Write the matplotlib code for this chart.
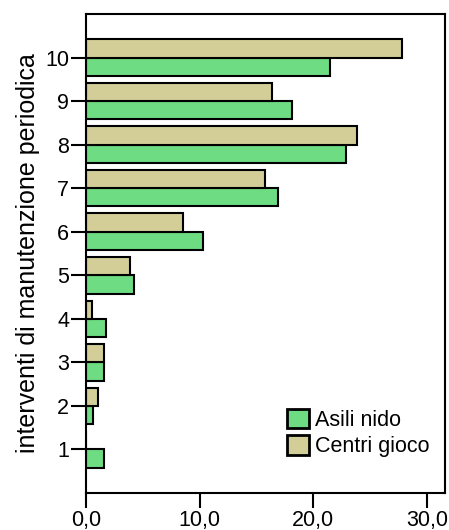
import numpy as np
import matplotlib.pyplot as plt

plt.rcParams['font.family'] = ['Liberation Sans', 'DejaVu Sans']

categories = [1, 2, 3, 4, 5, 6, 7, 8, 9, 10]
asili_nido = [1.6, 0.6, 1.6, 1.8, 4.2, 10.3, 16.9, 22.9, 18.1, 21.5]
centri_gioco = [0.0, 1.1, 1.6, 0.5, 3.9, 8.5, 15.8, 23.9, 16.4, 27.8]
xticks = [0, 10, 20, 30]
xtick_labels = ['0,0', '10,0', '20,0', '30,0']

fig = plt.figure(figsize=(4.49, 5.30), dpi=100)
ax = fig.add_axes([0.1915, 0.0698, 0.7995, 0.9038])

y = np.array(categories)
h = 0.42
ax.barh(y - h / 2, asili_nido, height=h, color='#6edc82', edgecolor='black',
        linewidth=1.5, label='Asili nido')
ax.barh(y + h / 2, centri_gioco, height=h, color='#d3ce97', edgecolor='black',
        linewidth=1.5, label='Centri gioco')

ax.set_xlim(0, 31.6)
ax.set_ylim(0, 11)
ax.set_yticks(categories)
ax.set_yticklabels([str(c) for c in categories])
ax.set_xticks(xticks)
ax.set_xticklabels(xtick_labels)
ax.tick_params(axis='both', labelsize=15.5, length=11, width=1.5, direction='out', pad=1)
for s in ax.spines.values():
    s.set_linewidth(1.5)

ax.set_ylabel('interventi di manutenzione periodica', fontsize=18, labelpad=4)

leg = ax.legend(loc='lower right', bbox_to_anchor=(1.012, 0.034), frameon=False,
                fontsize=15.5, handlelength=1.0, handleheight=1.0,
                handletextpad=0.3, labelspacing=0.2)
for p in leg.get_patches():
    p.set_linewidth(2)

fig.savefig('out.png', dpi=100)
